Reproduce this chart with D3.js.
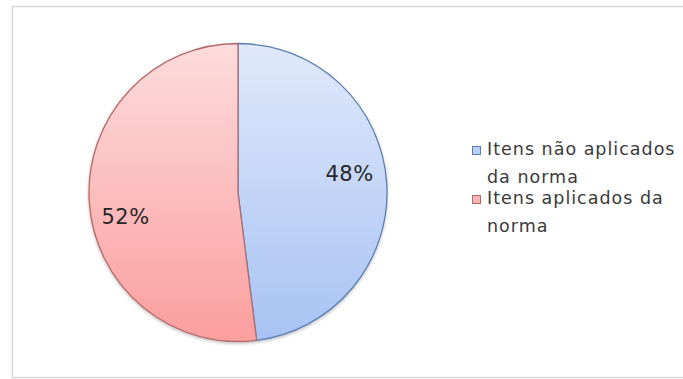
<!DOCTYPE html>
<html>
<head>
<meta charset="utf-8">
<script src="https://cdn.jsdelivr.net/npm/d3@7"></script>
<style>
html,body{margin:0;padding:0;background:#fff;}
svg{display:block;}
</style>
</head>
<body>
<svg id="chart" width="683" height="379"></svg>
<script>
const categories = ["Itens não aplicados da norma", "Itens aplicados da norma"];
const values = [48, 52];
const labels = ["48%", "52%"];
const legendLines = [["Itens não aplicados", "da norma"], ["Itens aplicados da", "norma"]];

const svg = d3.select("#chart");
const W = 683, H = 379;
const font = "'Century Gothic', 'DejaVu Sans', sans-serif";

// frame
svg.append("path")
  .attr("d", `M${W},6.5 H12.5 V377.5 H${W}`)
  .attr("fill", "none").attr("stroke", "#d9d9d9").attr("stroke-width", 1.5);

const defs = svg.append("defs");
const grads = [
  {id: "gBlue", top: "#e0e9fb", bot: "#a7c2f3"},
  {id: "gPink", top: "#fddcdc", bot: "#fb9e9e"}
];
grads.forEach(g => {
  const lg = defs.append("linearGradient").attr("id", g.id)
    .attr("gradientUnits", "userSpaceOnUse")
    .attr("x1", 0).attr("y1", -149).attr("x2", 0).attr("y2", 149);
  lg.append("stop").attr("offset", "0%").attr("stop-color", g.top);
  lg.append("stop").attr("offset", "100%").attr("stop-color", g.bot);
});
const f = defs.append("filter").attr("id", "shadow").attr("x", "-10%").attr("y", "-10%").attr("width", "120%").attr("height", "120%");
f.append("feDropShadow").attr("dx", 0).attr("dy", 1.5).attr("stdDeviation", 1.5).attr("flood-color", "#000").attr("flood-opacity", 0.25);

const strokes = ["#5b7fb5", "#b36a6a"];
const fills = ["url(#gBlue)", "url(#gPink)"];

const cx = 238, cy = 192.5, r = 149;
const pie = d3.pie().sort(null).value(d => d);
const arc = d3.arc().innerRadius(0).outerRadius(r);
const arcs = pie(values);

const g = svg.append("g").attr("transform", `translate(${cx},${cy})`);
g.append("g").attr("filter", "url(#shadow)")
  .selectAll("path").data(arcs).join("path")
  .attr("d", arc)
  .attr("fill", (d, i) => fills[i])
  .attr("stroke", (d, i) => strokes[i])
  .attr("stroke-width", 1.3);

// labels (placed on mid-angle, with small nudge as in reference)
const labelArc = d3.arc().innerRadius(r * 0.77).outerRadius(r * 0.77);
const nudge = [[-3, -12], [2, 17]];
g.selectAll("text.lbl").data(arcs).join("text")
  .attr("class", "lbl")
  .attr("x", (d, i) => labelArc.centroid(d)[0] + nudge[i][0])
  .attr("y", (d, i) => labelArc.centroid(d)[1] + nudge[i][1])
  .attr("text-anchor", "middle")
  .attr("dy", "0.35em")
  .attr("font-family", font)
  .attr("font-size", 21)
  .attr("letter-spacing", 0.5)
  .attr("fill", "#262626")
  .text((d, i) => labels[i]);

// legend
const legend = svg.append("g");
const legY = [155, 204];
const legColorsFill = ["#b9cff7", "#f9b5b5"];
categories.forEach((c, i) => {
  legend.append("rect")
    .attr("x", 472.5).attr("y", legY[i] - 8.5).attr("width", 8).attr("height", 8)
    .attr("fill", legColorsFill[i]).attr("stroke", strokes[i]).attr("stroke-width", 1);
  const t = legend.append("text")
    .attr("font-family", font).attr("font-size", 17.5).attr("letter-spacing", 1).attr("fill", "#3a3a3a");
  legendLines[i].forEach((ln, j) => {
    t.append("tspan").attr("x", 487).attr("y", legY[i] + j * 28).text(ln);
  });
});
</script>
</body>
</html>
